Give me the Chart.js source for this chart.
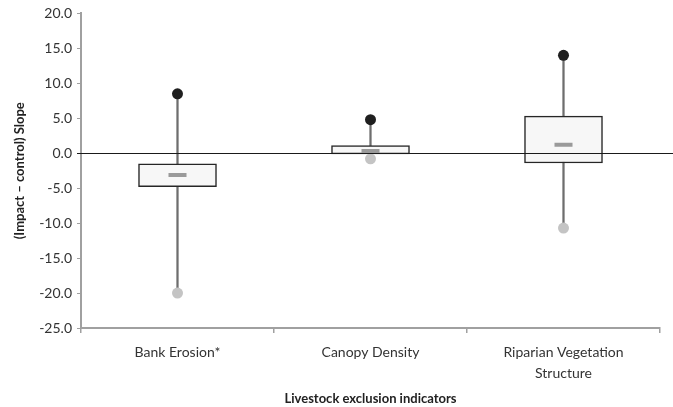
<!DOCTYPE html>
<html>
<head>
<meta charset="utf-8">
<script src="https://cdn.jsdelivr.net/npm/chart.js@4/dist/chart.umd.min.js"></script>
<style>
    html, body { margin: 0; padding: 0; background: #fff; }
    #wrap { width: 673px; height: 407px; }
</style>
</head>
<body>
<div id="wrap"><canvas id="boxChart"></canvas></div>
<script>
// Chart values
const categories = ['Bank Erosion*', 'Canopy Density', ['Riparian Vegetation', 'Structure']];
const boxLow = [-4.8, -0.1, -1.4];
const boxHigh = [-1.5, 1.1, 5.3];
const medians = [-3.1, 0.3, 1.2];
const maxValues = [8.5, 4.8, 14.0];
const minValues = [-20.0, -0.8, -10.7];
const yTicks = [20, 15, 10, 5, 0, -5, -10, -15, -20, -25];

const FONT = 'Lato, "Open Sans", sans-serif';

// Floating bar ranges built from the arrays above
const whiskerRanges = minValues.map((v, i) => [v, maxValues[i]]);
const boxRanges = boxLow.map((v, i) => [v, boxHigh[i]]);

// Black zero line that runs to the right edge of the canvas
const zeroLine = {
    id: 'zeroLine',
    afterDatasetsDraw(chart) {
        const ctx = chart.ctx;
        const y = Math.round(chart.scales.y.getPixelForValue(0)) + 0.5;
        ctx.save();
        ctx.strokeStyle = '#1a1a1a';
        ctx.lineWidth = 1.2;
        ctx.beginPath();
        ctx.moveTo(chart.chartArea.left - 4, y);
        ctx.lineTo(chart.width, y);
        ctx.stroke();
        ctx.restore();
    }
};

new Chart(document.getElementById('boxChart').getContext('2d'), {
    data: {
        labels: categories,
        datasets: [
            {
                type: 'line',
                data: medians,
                showLine: false,
                pointStyle: 'line',
                pointRadius: 9,
                pointBorderWidth: 4,
                pointBorderColor: '#9a9a9a',
                order: 1
            },
            {
                type: 'line',
                data: maxValues,
                showLine: false,
                pointRadius: 5.5,
                pointBackgroundColor: '#1f1f1f',
                pointBorderColor: '#1f1f1f',
                pointBorderWidth: 0,
                order: 0
            },
            {
                type: 'line',
                data: minValues,
                showLine: false,
                pointRadius: 5.5,
                pointBackgroundColor: '#c4c4c4',
                pointBorderColor: '#c4c4c4',
                pointBorderWidth: 0,
                order: 0
            },
            {
                type: 'bar',
                data: boxRanges,
                grouped: false,
                barThickness: 78,
                backgroundColor: '#f7f7f7',
                borderColor: '#262626',
                borderWidth: 1.5,
                borderSkipped: false,
                order: 2
            },
            {
                type: 'bar',
                data: whiskerRanges,
                grouped: false,
                barThickness: 1.6,
                backgroundColor: '#6e6e6e',
                borderWidth: 0,
                order: 3
            }
        ]
    },
    options: {
        responsive: true,
        maintainAspectRatio: false,
        animation: false,
        layout: { padding: { top: 8, right: 11, left: 12, bottom: 0 } },
        plugins: {
            legend: { display: false },
            tooltip: { enabled: false }
        },
        scales: {
            x: {
                type: 'category',
                offset: true,
                afterFit: scale => {
                    scale.height = 79;
                },
                grid: {
                    offset: true,
                    drawOnChartArea: false,
                    drawTicks: true,
                    tickLength: 5,
                    color: '#a0a0a0',
                    lineWidth: 1.5
                },
                border: { color: '#a0a0a0', width: 2 },
                ticks: {
                    color: '#333',
                    font: { family: FONT, size: 14, lineHeight: 1.5 },
                    padding: 9,
                    maxRotation: 0
                },
                title: {
                    display: true,
                    text: 'Livestock exclusion indicators',
                    color: '#222',
                    font: { family: FONT, size: 13, weight: 'bold' },
                    padding: { top: 6, bottom: 0 }
                }
            },
            y: {
                min: -25,
                max: 20,
                afterBuildTicks: scale => {
                    scale.ticks = yTicks.map(v => ({ value: v }));
                },
                afterFit: scale => {
                    scale.width = 69;
                },
                grid: {
                    drawOnChartArea: false,
                    drawTicks: true,
                    tickLength: 4,
                    color: '#a0a0a0'
                },
                border: { color: '#a0a0a0', width: 2 },
                ticks: {
                    color: '#333',
                    font: { family: FONT, size: 14 },
                    padding: 5,
                    callback: v => v.toFixed(1)
                },
                title: {
                    display: true,
                    text: '(Impact \u2013 control) Slope',
                    color: '#222',
                    font: { family: FONT, size: 13, weight: 'bold' },
                    padding: { top: 0, bottom: 2 }
                }
            }
        }
    },
    plugins: [zeroLine]
});
</script>
</body>
</html>
